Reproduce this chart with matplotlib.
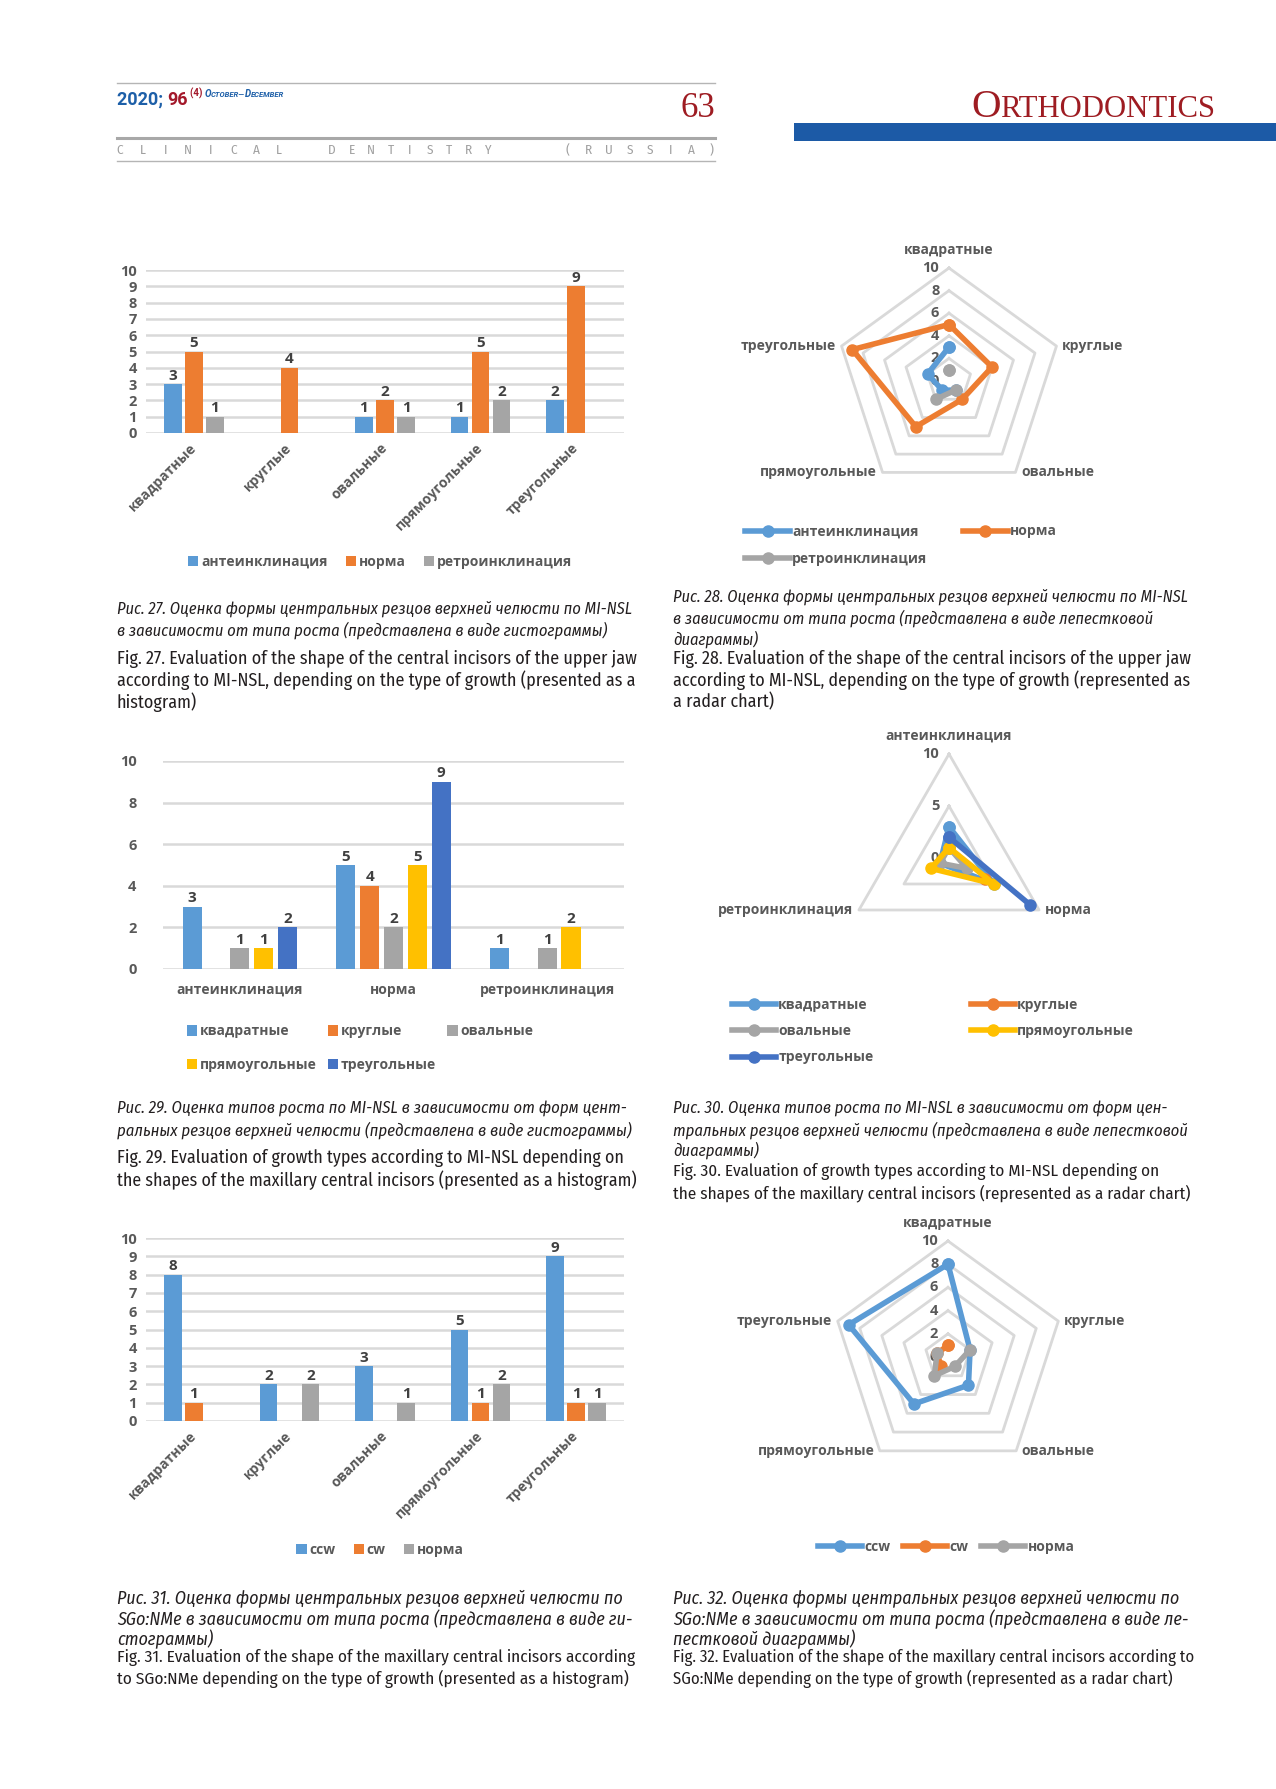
import matplotlib
matplotlib.use("Agg")
import matplotlib.pyplot as plt
import numpy as np
from matplotlib import font_manager
from matplotlib.ft2font import FT2Font
from matplotlib.patches import Rectangle

W, H = 1276, 1789
nan = np.nan

# ---------------- data ----------------
shapes = ["квадратные", "круглые", "овальные", "прямоугольные", "треугольные"]
growth = ["антеинклинация", "норма", "ретроинклинация"]

# fig 27 / 28 : shape of incisors by growth type (MI-NSL)
ante_27 = [3, nan, 1, 1, 2]
norma_27 = [5, 4, 2, 5, 9]
retro_27 = [1, nan, 1, 2, nan]

# fig 29 / 30 : growth type by shape
kvadr_29 = [3, 5, 1]
krug_29 = [nan, 4, nan]
oval_29 = [1, 2, 1]
pryam_29 = [1, 5, 2]
treug_29 = [2, 9, nan]

# fig 31 / 32 : SGo:NMe
sgo_types = ["ccw", "cw", "норма"]
ccw_31 = [8, 2, 3, 5, 9]
cw_31 = [1, nan, nan, 1, 1]
norma_31 = [nan, 2, 1, 2, 1]

c_blue, c_orange, c_gray = "#5b9bd5", "#ed7d31", "#a5a5a5"
c_yellow, c_dblue = "#ffc000", "#4472c4"
TXT = "#595959"


# ---------------- fonts ----------------
def covers(path, chars="ОценкаРисжщ"):
    try:
        cm = FT2Font(path).get_charmap()
    except Exception:
        return False
    return all(ord(c) in cm for c in chars)


groups = {}
for f in font_manager.fontManager.ttflist:
    if "Narrow" in f.name or "Condensed" in f.name:
        groups.setdefault(f.name, []).append(f)
narrow_en = sorted(groups)
narrow_ru = [n for n in narrow_en
             if all(covers(f.fname) for f in groups[n]) and any(f.style == "italic" for f in groups[n])]
avail = {f.name for f in font_manager.fontManager.ttflist}
CAP_RU = narrow_ru[0] if narrow_ru else "Roboto"
CAP_EN = CAP_RU
CH = "Open Sans" if "Open Sans" in avail else "DejaVu Sans"
SERIF = "Liberation Serif"
plt.rcParams["font.family"] = [CH, "DejaVu Sans"]

fig = plt.figure(figsize=(W / 100, H / 100), dpi=100)
fig.patch.set_facecolor("white")
bg = fig.add_axes([0, 0, 1, 1])
bg.set_xlim(0, W)
bg.set_ylim(H, 0)
bg.axis("off")
rend = fig.canvas.get_renderer()


def box(x0, y0, x1, y1):
    return [x0 / W, 1 - y1 / H, (x1 - x0) / W, (y1 - y0) / H]


def run(x, y, parts):
    out = []
    for txt, kw in parts:
        t = bg.text(x, y, txt, va="baseline", **kw)
        x += t.get_window_extent(renderer=rend).width
        out.append(t)
    return out, x


# ---------------- header ----------------
HB = ["Roboto", "DejaVu Sans"]
bg.plot([117, 715], [83, 83], color="#b5b5b5", lw=1)
_, xe = run(117, 105, [("2020; ", dict(family=HB, weight="bold", size=13, color="#1d5fa8")),
                       ("96", dict(family=HB, weight="bold", size=13, color="#a3182a")),
                       (" ", dict(family=HB, size=5))])
run(xe, 97, [("(4) ", dict(family=HB, weight="bold", size=7, color="#a3182a")),
             ("O", dict(family=HB, style="italic", weight="bold", size=7, color="#1d5fa8")),
             ("CTOBER—", dict(family=HB, style="italic", weight="bold", size=5.5, color="#1d5fa8")),
             ("D", dict(family=HB, style="italic", weight="bold", size=7, color="#1d5fa8")),
             ("ECEMBER", dict(family=HB, style="italic", weight="bold", size=5.5, color="#1d5fa8"))])
bg.text(715, 117, "63", ha="right", va="baseline", family=SERIF, size=25, color="#9e1c22")
bg.plot([117, 715], [138, 138], color="#a8a8a8", lw=2.2)
for word, x0, x1 in [("CLINICAL", 120, 279), ("DENTISTRY", 332, 488), ("(RUSSIA)", 568, 712)]:
    for ch, xx in zip(word, np.linspace(x0, x1, len(word))):
        bg.text(xx, 150, ch, ha="center", va="center", family=[CAP_EN, "DejaVu Sans"], size=9.5,
                color="#a0a0a0")
bg.plot([117, 715], [161, 161], color="#b5b5b5", lw=1)
bg.add_patch(Rectangle((794, 123), W - 794, 18, color="#1c5aa6", lw=0))

orth, _ = run(971, 117, [("O", dict(family=SERIF, size=24, color="#9e1c22")),
                         ("RTHODONTICS", dict(family=SERIF, size=18, color="#9e1c22"))])
tot = sum(t.get_window_extent(renderer=rend).width for t in orth)
k = 245 / tot
xx = 971
for t in orth:
    t.set_fontsize(t.get_fontsize() * k)
    t.set_x(xx)
    xx += t.get_window_extent(renderer=rend).width


# ---------------- helpers ----------------
def bar_chart(rect, cats, series, colors, yticks, width, step, rot, pad):
    ax = fig.add_axes(rect)
    x = np.arange(len(cats))
    n = len(series)
    conts = []
    for i, (vals, col) in enumerate(zip(series, colors)):
        v = np.array(vals, float)
        m = np.isfinite(v)
        xs = x + (i - (n - 1) / 2) * step
        b = ax.bar(xs[m], v[m], width, color=col, zorder=3)
        conts.append(b)
        for xi, vi in zip(xs[m], v[m]):
            ax.annotate(f"{vi:.0f}", (xi, vi), xytext=(0, 1), textcoords="offset points",
                        ha="center", va="bottom", fontsize=11, fontweight="bold", color="#404040")
    ax.set_xlim(-0.5, len(cats) - 0.5)
    ax.set_ylim(0, 10)
    ax.set_yticks(yticks)
    ax.grid(axis="y", color="#d9d9d9", lw=1.8, zorder=0)
    ax.set_axisbelow(True)
    for s in ax.spines.values():
        s.set_visible(False)
    ax.patch.set_alpha(0)
    ax.tick_params(length=0, colors=TXT, labelsize=10)
    ax.tick_params(axis="y", pad=pad, labelsize=10.5)
    plt.setp(ax.get_yticklabels(), fontweight="bold")
    if rot:
        ax.set_xticks(x, cats, rotation=45, ha="right", va="center", rotation_mode="anchor",
                      fontweight="bold")
        ax.tick_params(axis="x", pad=9)
    else:
        ax.set_xticks(x, cats, fontweight="bold")
        ax.tick_params(axis="x", pad=10)
    return ax, conts


def radar(cx, cy, R, cats, series, colors, rings, ring_labels):
    ax = fig.add_axes(box(cx - R, cy - R, cx + R, cy + R), projection="polar")
    n = len(cats)
    th = np.arange(n) * 2 * np.pi / n
    ax.set_theta_offset(np.pi / 2)
    ax.set_theta_direction(-1)
    ax.set_ylim(0, 10)
    ax.grid(False)
    ax.spines["polar"].set_visible(False)
    ax.set_xticks([])
    ax.set_yticks([])
    ax.patch.set_visible(False)
    tc = np.append(th, th[0])
    for r in rings:
        ax.plot(tc, np.full(n + 1, r), color="#d9d9d9", lw=2, clip_on=False, zorder=1)
    lines = []
    for vals, col in zip(series, colors):
        v = np.array(list(vals) + [vals[0]], float)
        ln, = ax.plot(tc, v, color=col, lw=4, marker="o", ms=8, clip_on=False, zorder=3)
        lines.append(ln)
    for t, c in zip(th, cats):
        dx = np.sin(t)
        if abs(dx) < 0.01:
            ha, off = "center", (0, 13)
        elif dx > 0:
            ha, off = "left", (4, 0)
        else:
            ha, off = "right", (-4, 0)
        ax.annotate(c, (t, 10), xytext=off, textcoords="offset points", ha=ha, va="center",
                    fontsize=10, fontweight="bold", color=TXT, annotation_clip=False)
    for r, lab in zip([0] + list(rings), ring_labels):
        ax.annotate(lab, (0, r), xytext=(-7, 0), textcoords="offset points", ha="right",
                    va="center", fontsize=10.5, fontweight="bold", color=TXT, zorder=2,
                    annotation_clip=False)
    return ax, lines


def legend(handles, labels, cx, cy, ncol, **kw):
    lg = fig.legend(handles, labels, loc="center", bbox_to_anchor=(cx / W, 1 - cy / H), ncol=ncol,
                    frameon=False, prop=dict(weight="bold", size=10), borderpad=0, **kw)
    for t in lg.get_texts():
        t.set_color(TXT)
    return lg


bar_leg = dict(handlelength=0.75, handleheight=0.75, handletextpad=0.2)
rad_leg = dict(handlelength=3.2, handletextpad=0.15)

# ---------------- fig 27 ----------------
ax, bars = bar_chart(box(146, 270, 624, 433), shapes, [ante_27, norma_27, retro_27],
                     [c_blue, c_orange, c_gray], range(0, 11), 0.185, 0.22, True, 6.5)
legend(bars, growth, 380, 562, 3, columnspacing=1.3, **bar_leg)

# ---------------- fig 28 ----------------
ax, lines = radar(949, 381, 113, shapes, [ante_27, norma_27, retro_27],
                  [c_blue, c_orange, c_gray], [2, 4, 6, 8, 10], ["0", "2", "4", "6", "8", "10"])
legend([lines[0], lines[2], lines[1]], [growth[0], growth[2], growth[1]], 901, 545, 2,
       columnspacing=2.6, labelspacing=0.95, **rad_leg)

# ---------------- fig 29 ----------------
ser29 = [kvadr_29, krug_29, oval_29, pryam_29, treug_29]
col29 = [c_blue, c_orange, c_gray, c_yellow, c_dblue]
ax, bars = bar_chart(box(163, 761, 624, 969), growth, ser29, col29, range(0, 11, 2),
                     0.125, 0.155, False, 19)
order = [0, 3, 1, 4, 2]
legend([bars[i] for i in order], [shapes[i] for i in order], 360, 1048, 3,
       columnspacing=0.8, labelspacing=1.4, **bar_leg)

# ---------------- fig 30 ----------------
ax, lines = radar(949, 858, 104, growth, ser29, col29, [5, 10], ["0", "5", "10"])
order = [0, 2, 4, 1, 3]
legend([lines[i] for i in order], [shapes[i] for i in order], 933, 1031, 2,
       columnspacing=7.0, labelspacing=0.9, **rad_leg)

# ---------------- fig 31 ----------------
ax, bars = bar_chart(box(146, 1238, 624, 1421), shapes, [ccw_31, cw_31, norma_31],
                     [c_blue, c_orange, c_gray], range(0, 11), 0.185, 0.22, True, 6.5)
legend(bars, sgo_types, 380, 1550, 3, columnspacing=1.3, **bar_leg)

# ---------------- fig 32 ----------------
ax, lines = radar(948, 1357, 116, shapes, [ccw_31, cw_31, norma_31],
                  [c_blue, c_orange, c_gray], [2, 4, 6, 8, 10], ["0", "2", "4", "6", "8", "10"])
legend(lines, sgo_types, 946, 1547, 3, columnspacing=0.9, **rad_leg)


# ---------------- captions ----------------
def paragraph(x, ys, lines, width, italic):
    fam = [CAP_RU if italic else CAP_EN, "Roboto", "DejaVu Sans"]
    kw = dict(family=fam, style="italic" if italic else "normal", color="#231f20", va="center")
    ts = [bg.text(x, y, line, size=10, **kw) for y, line in zip(ys, lines)]
    ws = [t.get_window_extent(renderer=rend).width for t in ts]
    s = 10 * width / ws[0]
    for w in ws[1:]:
        s = min(s, 10 * width / w)
    s = min(max(s, 9), 14.5)
    for t in ts:
        t.set_fontsize(s)


LX, RX, CW = 117, 673, 517
paragraph(LX, [609, 630], ["Рис. 27. Оценка формы центральных резцов верхней челюсти по MI-NSL",
                           "в зависимости от типа роста (представлена в виде гистограммы)"], CW, True)
paragraph(LX, [659, 680, 702], ["Fig. 27. Evaluation of the shape of the central incisors of the upper jaw",
                                "according to MI-NSL, depending on the type of growth (presented as a",
                                "histogram)"], CW, False)
paragraph(RX, [597, 618, 639], ["Рис. 28. Оценка формы центральных резцов верхней челюсти по MI-NSL",
                                "в зависимости от типа роста (представлена в виде лепестковой",
                                "диаграммы)"], CW, True)
paragraph(RX, [659, 680, 702], ["Fig. 28. Evaluation of the shape of the central incisors of the upper jaw",
                                "according to MI-NSL, depending on the type of growth (represented as",
                                "a radar chart)"], CW, False)
paragraph(LX, [1108, 1130], ["Рис. 29. Оценка типов роста по MI-NSL в зависимости от форм цент-",
                             "ральных резцов верхней челюсти (представлена в виде гистограммы)"], CW, True)
paragraph(LX, [1158, 1180], ["Fig. 29. Evaluation of growth types according to MI-NSL depending on",
                             "the shapes of the maxillary central incisors (presented as a histogram)"], CW, False)
paragraph(RX, [1108, 1130, 1150], ["Рис. 30. Оценка типов роста по MI-NSL в зависимости от форм цен-",
                                   "тральных резцов верхней челюсти (представлена в виде лепестковой",
                                   "диаграммы)"], CW, True)
paragraph(RX, [1172, 1193], ["Fig. 30. Evaluation of growth types according to MI-NSL depending on",
                             "the shapes of the maxillary central incisors (represented as a radar chart)"], CW, False)
paragraph(LX, [1598, 1619, 1639], ["Рис. 31. Оценка формы центральных резцов верхней челюсти по",
                                   "SGo:NMe в зависимости от типа роста (представлена в виде ги-",
                                   "стограммы)"], CW, True)
paragraph(LX, [1658, 1679], ["Fig. 31. Evaluation of the shape of the maxillary central incisors according",
                             "to SGo:NMe depending on the type of growth (presented as a histogram)"], CW, False)
paragraph(RX, [1598, 1619, 1639], ["Рис. 32. Оценка формы центральных резцов верхней челюсти по",
                                   "SGo:NMe в зависимости от типа роста (представлена в виде ле-",
                                   "пестковой диаграммы)"], CW, True)
paragraph(RX, [1658, 1679], ["Fig. 32. Evaluation of the shape of the maxillary central incisors according to",
                             "SGo:NMe depending on the type of growth (represented as a radar chart)"], CW, False)

fig.savefig("out.png", dpi=100, facecolor="white")
